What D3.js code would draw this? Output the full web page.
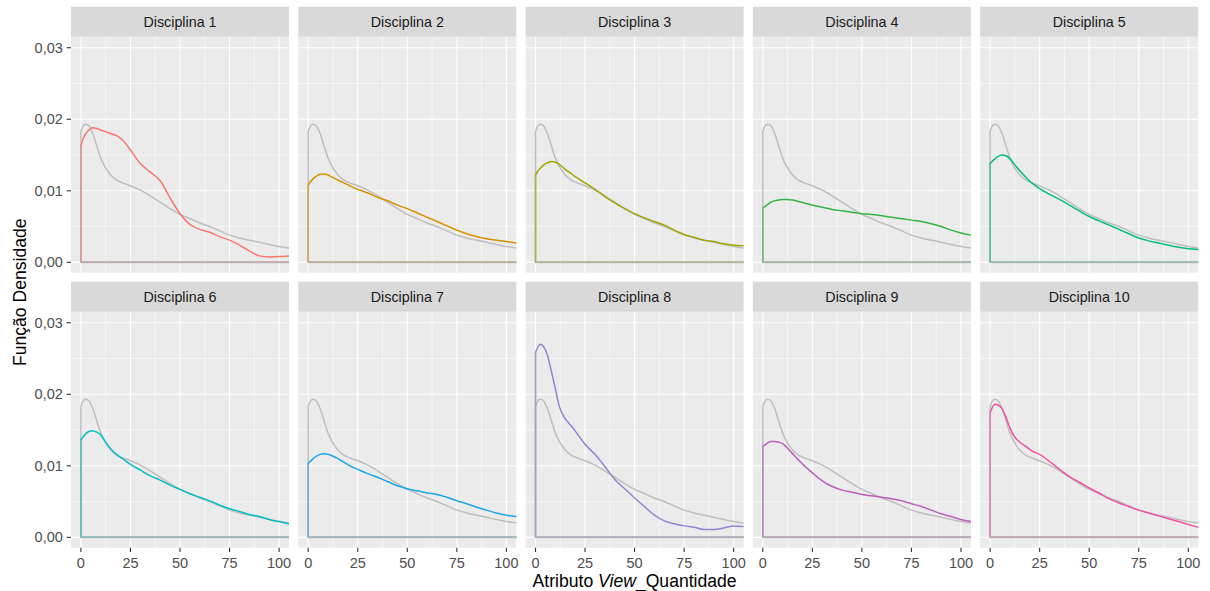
<!DOCTYPE html>
<html><head><meta charset="utf-8">
<script src="https://cdn.jsdelivr.net/npm/d3@7"></script>
<style>body{margin:0;background:#fff} text{font-family:"Liberation Sans",Arial,Helvetica,sans-serif}</style>
</head><body><svg id="c" width="1210" height="591"></svg>
<script>
const categories = ["Disciplina 1","Disciplina 2","Disciplina 3","Disciplina 4","Disciplina 5",
                    "Disciplina 6","Disciplina 7","Disciplina 8","Disciplina 9","Disciplina 10"];
const colors = ["#F8766D","#D89000","#A3A500","#34B444","#00BF7D","#00BFC4","#1AA6E8","#8B87D6","#BB5FBB","#F052A6"];
const xGrid = [0,1,2.5,4,6,8,10,12,15,18,21,25,30,35,40,45,50,55,60,65,70,75,80,85,90,95,100,105];
const overall = [.0183,.0190,.0193,.0191,.0180,.0163,.0146,.0134,.0122,.0115,.0111,.0107,.0101,.0093,.0084,.0075,.0067,.0061,.0055,.0050,.0044,.0038,.0034,.0031,.0028,.0025,.0022,.0020];
const d1 = [.0162,.0172,.0180,.0185,.0188,.0187,.0185,.0183,.0180,.0177,.0171,.0157,.0138,.0126,.0114,.0090,.0068,.0053,.0046,.0042,.0036,.0031,.0024,.0016,.0009,.00075,.0008,.0009];
const d2 = [.0108,.0112,.0117,.0120,.0123,.01235,.0122,.0119,.0115,.0111,.0107,.0102,.0097,.0091,.0086,.0080,.0075,.0069,.0063,.0057,.0051,.0045,.0040,.0036,.0033,.0031,.0029,.0027];
const d3s = [.0122,.0127,.0132,.0136,.0139,.0141,.0140,.0137,.0130,.0124,.0118,.0111,.0102,.0092,.0083,.0075,.0068,.0062,.0057,.0052,.0045,.0039,.0035,.0031,.0029,.0026,.0024,.0023];
const d4 = [.0076,.0078,.0081,.0084,.0086,.0087,.0088,.0088,.0087,.0085,.0083,.0080,.0077,.0074,.0072,.0070,.0068,.0067,.0065,.0063,.0061,.0059,.0057,.0054,.0050,.0045,.0041,.0038];
const d5 = [.0138,.0141,.0145,.0148,.0150,.0149,.0145,.0138,.0128,.0119,.0111,.0103,.0095,.0088,.0080,.0072,.0064,.0058,.0052,.0046,.0040,.0034,.0030,.0027,.0024,.0021,.0019,.0018];
const d6 = [.0136,.0140,.0145,.0148,.0149,.0147,.0143,.0135,.0124,.0116,.0110,.0102,.0094,.0086,.0080,.0073,.0067,.0061,.0056,.0051,.0045,.0040,.0036,.0032,.0029,.0025,.0022,.0019];
const d7 = [.0103,.0106,.0110,.0113,.0116,.0117,.0116,.0114,.0110,.0105,.0100,.0095,.0089,.0084,.0078,.0072,.0068,.0065,.0062,.0060,.0056,.0051,.0047,.0042,.0038,.0034,.0031,.0029];
const d8 = [.0258,.0265,.0270,.0267,.0255,.0232,.0208,.0183,.0166,.0156,.0145,.0130,.0116,.0099,.0081,.0068,.0055,.0043,.0031,.0023,.0019,.0016,.0014,.0011,.0011,.0013,.0016,.0015];
const d9 = [.0127,.0129,.0132,.0134,.0134,.0133,.0131,.0126,.0117,.0108,.0100,.0090,.0079,.0071,.0066,.0063,.0060,.0058,.0056,.0054,.0051,.0047,.0043,.0038,.0033,.0029,.0025,.0022];
const d10 = [.0174,.0181,.0186,.0185,.0180,.0168,.0153,.0142,.0133,.0127,.0121,.0116,.0106,.0095,.0085,.0077,.0069,.0062,.0054,.0048,.0043,.0038,.0034,.0030,.0026,.0022,.0018,.0014];
const seriesValues = [d1,d2,d3s,d4,d5,d6,d7,d8,d9,d10];
const xTicks = [0,25,50,75,100];
const xMinor = [12.5,37.5,62.5,87.5];
const yTicks = [0,0.01,0.02,0.03];
const yMinor = [0.005,0.015,0.025];
const yTickLabels = ["0,00","0,01","0,02","0,03"];

const svg = d3.select("#c");
const W = 218, H = 236, colStep = 227.3, left0 = 71;
const rowTop = [6.7, 281.7], stripH = 30;
const x = d3.scaleLinear().domain([-5,105]).range([0,W]);
const y = d3.scaleLinear().domain([-0.00145,0.03154]).range([H,0]);
const line = d3.line().x(d=>x(d[0])).y(d=>y(d[1])).curve(d3.curveMonotoneX);

function densPath(vals){
  const pts = xGrid.map((v,i)=>[v,vals[i]]);
  const cur = line(pts);
  const last = vals[vals.length-1];
  return "M"+x(0)+","+y(0)+"L"+cur.slice(1)+"L"+x(115)+","+y(last)+"L"+x(115)+","+y(0)+"Z";
}

categories.forEach((cat,i)=>{
  const col = i%5, row = Math.floor(i/5);
  const px = left0 + col*colStep, sy = rowTop[row], py = sy + stripH;
  const g = svg.append("g").attr("transform",`translate(${px},${py})`);
  svg.append("rect").attr("x",px).attr("y",sy).attr("width",W).attr("height",stripH).attr("fill","#D9D9D9");
  svg.append("text").attr("x",px+W/2).attr("y",sy+stripH/2+5).attr("text-anchor","middle")
     .attr("font-size","14.3px").attr("fill","#1A1A1A").text(cat);
  g.append("rect").attr("width",W).attr("height",H).attr("fill","#EBEBEB");
  const cid = "clip"+i;
  g.append("clipPath").attr("id",cid).append("rect").attr("width",W).attr("height",H);
  g.selectAll(".xm").data(xMinor).join("line").attr("x1",d=>x(d)).attr("x2",d=>x(d)).attr("y1",0).attr("y2",H).attr("stroke","#fff").attr("stroke-width",0.55);
  g.selectAll(".ym").data(yMinor).join("line").attr("y1",d=>y(d)).attr("y2",d=>y(d)).attr("x1",0).attr("x2",W).attr("stroke","#fff").attr("stroke-width",0.55);
  g.selectAll(".xg").data(xTicks).join("line").attr("x1",d=>x(d)).attr("x2",d=>x(d)).attr("y1",0).attr("y2",H).attr("stroke","#fff").attr("stroke-width",1.1);
  g.selectAll(".yg").data(yTicks).join("line").attr("y1",d=>y(d)).attr("y2",d=>y(d)).attr("x1",0).attr("x2",W).attr("stroke","#fff").attr("stroke-width",1.1);
  const cg = g.append("g").attr("clip-path",`url(#${cid})`);
  cg.append("path").attr("d",densPath(overall)).attr("fill","none").attr("stroke","#BEBEBE").attr("stroke-width",1.5).attr("stroke-linejoin","round");
  cg.append("path").attr("d",densPath(seriesValues[i])).attr("fill","none").attr("stroke",colors[i]).attr("stroke-width",1.5).attr("stroke-linejoin","round");
  cg.append("line").attr("x1",x(0)).attr("x2",W+5).attr("y1",y(0)).attr("y2",y(0)).attr("stroke","#B8B8B8").attr("stroke-opacity",0.9).attr("stroke-width",2);
  cg.append("line").attr("x1",x(0)).attr("x2",x(0)).attr("y1",y(0)).attr("y2",y(seriesValues[i][0])).attr("stroke","#BEBEBE").attr("stroke-opacity",0.5).attr("stroke-width",1.5);
  if(col===0){
    const ya = g.append("g");
    ya.selectAll("line").data(yTicks).join("line").attr("x1",-4.3).attr("x2",0).attr("y1",d=>y(d)).attr("y2",d=>y(d)).attr("stroke","#333").attr("stroke-width",1.1);
    ya.selectAll("text").data(yTicks).join("text").attr("x",-8.2).attr("y",d=>y(d)+5).attr("text-anchor","end")
      .attr("font-size","14.5px").attr("fill","#4D4D4D").text((d,k)=>yTickLabels[k]);
  }
  if(row===1){
    const xa = g.append("g");
    xa.selectAll("line").data(xTicks).join("line").attr("x1",d=>x(d)).attr("x2",d=>x(d)).attr("y1",H).attr("y2",H+4.3).attr("stroke","#333").attr("stroke-width",1.1);
    xa.selectAll("text").data(xTicks).join("text").attr("x",d=>x(d)).attr("y",H+20).attr("text-anchor","middle")
      .attr("font-size","14.5px").attr("fill","#4D4D4D").text(d=>d);
  }
});

const xt = svg.append("text").attr("x",left0+(4*colStep+W)/2).attr("y",586.5).attr("text-anchor","middle").attr("font-size","17.6px").attr("fill","#000");
xt.append("tspan").text("Atributo ");
xt.append("tspan").attr("font-style","italic").text("View");
xt.append("tspan").text("_Quantidade");
svg.append("text").attr("transform",`translate(26,${(rowTop[0]+rowTop[1]+2*stripH+H)/2}) rotate(-90)`)
   .attr("text-anchor","middle").attr("font-size","17.6px").attr("fill","#000").text("Função Densidade");
</script></body></html>
